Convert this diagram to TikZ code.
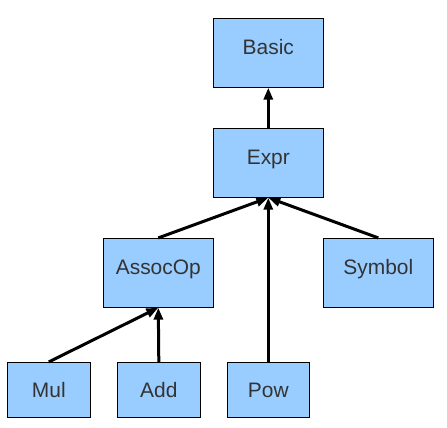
\documentclass[tikz,border=0pt]{standalone}
\usepackage{fontspec}
\setmainfont{Liberation Sans}
\usetikzlibrary{arrows.meta, positioning}
\definecolor{boxblue}{HTML}{99CCFF}
\definecolor{textgray}{HTML}{333333}

\begin{document}
\begin{tikzpicture}[x=1bp, y=1bp, font=\fontsize{21}{25}\selectfont,
    bigbox/.style={draw, line width=0.8bp, fill=boxblue, text=textgray,
      minimum width=110bp, minimum height=69bp, inner sep=0pt,
      text height=15bp, text depth=11bp},
    smallbox/.style={draw, line width=0.8bp, fill=boxblue, text=textgray,
      minimum width=83bp, minimum height=55bp, inner sep=0pt,
      text height=15bp, text depth=0bp},
    inherit/.style={-{Triangle[length=12bp, width=9bp]}, line width=3bp}]
  \useasboundingbox (0, 0) rectangle (447, 427);

  % Class boxes
  \node[bigbox] (basic) at (268.3, 374.2) {Basic};
  \node[bigbox] (expr) at (268.3, 264.2) {Expr};
  \node[bigbox] (assocop) at (158.3, 154.2) {AssocOp};
  \node[bigbox] (symbol) at (378.3, 154.2) {Symbol};

  % Leaf classes
  \node[smallbox] (mul) at (48.8, 37.2) {Mul};
  \node[smallbox] (add) at (158.8, 37.2) {Add};
  \node[smallbox, minimum width=82bp] (pow) at (268.3, 37.2) {Pow};

  % Inheritance arrows
  \draw[inherit] (expr.north) -- (basic.south);
  \draw[inherit] (assocop.north) -- (expr.south);
  \draw[inherit] (symbol.north) -- (expr.south);
  \draw[inherit] (pow.north) -- (expr.south);
  \draw[inherit] (mul.north) -- (assocop.south);
  \draw[inherit] (add.north) -- (assocop.south);
\end{tikzpicture}
\end{document}
